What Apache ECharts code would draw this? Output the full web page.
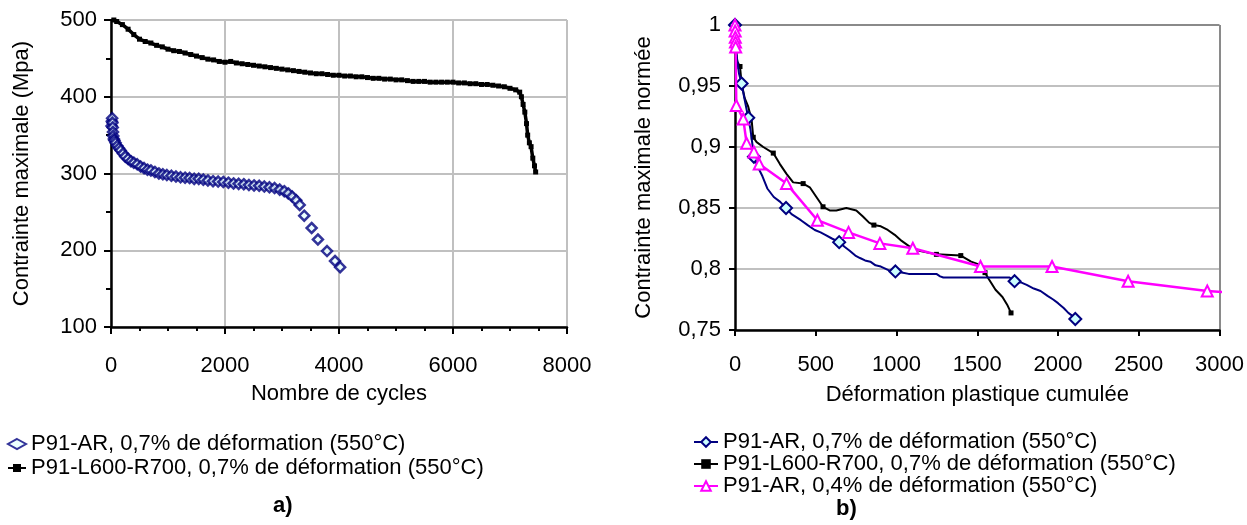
<!DOCTYPE html>
<html>
<head>
<meta charset="utf-8">
<script src="https://cdn.jsdelivr.net/npm/echarts@6/dist/echarts.min.js"></script>
<style>
  html, body { margin: 0; padding: 0; background: #fff; }
  #fatigue_con { width: 1247px; height: 525px; }
</style>
</head>
<body>
<div id="fatigue_con"></div>
<script>
// a) contrainte maximale (MPa) en fonction du nombre de cycles
const cyclesAR = [10, 15, 20, 25, 30, 35, 40, 50, 60, 80, 110, 140, 170, 210, 250, 300, 350, 400, 460, 520,
  580, 640, 700, 770, 840, 910, 980, 1060, 1140, 1220, 1300, 1380, 1460, 1540, 1620, 1700, 1790, 1880, 1970, 2060,
  2150, 2240, 2330, 2420, 2510, 2600, 2690, 2780, 2870, 2960, 3040, 3110, 3180, 3250, 3310, 3390, 3520, 3630, 3790, 3930, 4020];
const stressAR = [362, 368, 372, 366, 360, 354, 349, 345, 343, 340, 336, 333, 330, 326, 322, 319, 316, 314, 312, 309,
  307, 305, 304, 302, 300, 299, 298, 297, 296, 295, 294.5, 294, 293, 293, 292, 291, 290, 289.5, 289, 288,
  287, 286.5, 286, 285, 284.5, 284, 283, 282, 281, 279, 277, 274, 270, 265, 259, 245, 229, 214, 199, 186, 178];

const cyclesL600 = [50, 100, 200, 300, 400, 500, 600, 700, 800, 900, 1000, 1100, 1200, 1300, 1400, 1500, 1600, 1700, 1800, 1900,
  2000, 2100, 2200, 2300, 2400, 2500, 2600, 2700, 2800, 2900, 3000, 3100, 3200, 3300, 3400, 3500, 3600, 3700, 3800, 3900,
  4000, 4100, 4200, 4300, 4400, 4500, 4600, 4700, 4800, 4900, 5000, 5100, 5200, 5300, 5400, 5500, 5600, 5700, 5800, 5900,
  6000, 6100, 6200, 6300, 6400, 6500, 6600, 6700, 6800, 6900, 7000, 7100, 7170, 7200, 7230, 7260, 7290, 7310, 7340, 7370,
  7400, 7430, 7450];
const stressL600 = [500, 498, 494, 488, 481, 475, 472, 470, 467, 465, 462, 460, 459, 457, 455, 453, 451, 449, 448, 446,
  445, 446, 444, 443, 442, 441, 440, 439, 438, 437, 436, 435, 434, 433, 432, 431, 430, 430, 429, 428,
  428, 427, 427, 426, 426, 425, 424, 424, 423, 423, 422, 422, 421, 420, 420, 420, 419, 419, 419, 419,
  419, 418, 418, 417, 417, 416, 416, 415, 414, 413, 411, 409, 406, 400, 390, 380, 365, 350, 340, 335,
  320, 310, 302];

// b) contrainte maximale normée en fonction de la déformation plastique cumulée
const ar07 = [[0, 1.0], [2, 0.99], [10, 0.975], [25, 0.96], [41, 0.952], [55, 0.942], [70, 0.932], [82, 0.924],
  [95, 0.915], [110, 0.9], [117, 0.892], [140, 0.884], [170, 0.876], [200, 0.866], [240, 0.859], [280, 0.855],
  [316, 0.85], [350, 0.845], [408, 0.84], [450, 0.836], [494, 0.832], [530, 0.83], [559, 0.828], [600, 0.825],
  [645, 0.822], [680, 0.818], [710, 0.815], [745, 0.811], [774, 0.809], [805, 0.807], [838, 0.806], [870, 0.803],
  [903, 0.802], [950, 0.799], [993, 0.798], [1040, 0.797], [1075, 0.796], [1150, 0.796], [1247, 0.796], [1270, 0.794],
  [1290, 0.793], [1450, 0.793], [1600, 0.793], [1700, 0.793], [1731, 0.79], [1770, 0.789], [1806, 0.787], [1850, 0.784],
  [1892, 0.782], [1935, 0.778], [1970, 0.775], [2000, 0.772], [2035, 0.768], [2064, 0.764], [2085, 0.762], [2107, 0.759]];
const ar07Marked = [0, 41, 82, 117, 316, 645, 993, 1731, 2107];

const l600 = [[0, 1.0], [2, 0.99], [6, 0.979], [14, 0.97], [31, 0.966], [41, 0.952], [60, 0.94], [82, 0.933],
  [103, 0.922], [113, 0.908], [134, 0.904], [175, 0.9], [237, 0.895], [278, 0.886], [319, 0.878], [360, 0.871],
  [422, 0.87], [463, 0.867], [504, 0.859], [545, 0.851], [586, 0.848], [627, 0.848], [689, 0.85], [751, 0.848],
  [792, 0.843], [830, 0.838], [860, 0.836], [903, 0.835], [946, 0.832], [989, 0.828], [1032, 0.823], [1075, 0.819],
  [1140, 0.815], [1247, 0.812], [1398, 0.811], [1462, 0.806], [1505, 0.804], [1548, 0.797], [1570, 0.792], [1613, 0.783],
  [1656, 0.777], [1688, 0.77], [1709, 0.764]];
const l600Marked = [6, 31, 41, 113, 237, 422, 545, 860, 1247, 1398, 1548, 1709];

const ar04 = [[0, 1.0], [1, 0.995], [2, 0.99], [3, 0.986], [4, 0.982], [8, 0.934], [51, 0.923], [72, 0.903],
  [117, 0.896], [150, 0.886], [319, 0.87], [510, 0.84], [703, 0.83], [897, 0.821], [1101, 0.817], [1520, 0.802],
  [1963, 0.802], [2434, 0.79], [2924, 0.782], [3030, 0.781]];

const cycleTicks = [0, 8000, 2000];
const stressTicks = [100, 500, 100];
const strainTicks = [0, 3000, 500];
const normTicks = [0.75, 1, 0.05];

const legendNames = {
  a1: 'P91-AR, 0,7% de déformation (550°C)',
  a2: 'P91-L600-R700, 0,7% de déformation (550°C)',
  b1: 'P91-AR, 0,7% de déformation (550°C)',
  b2: 'P91-L600-R700, 0,7% de déformation (550°C)',
  b3: 'P91-AR, 0,4% de déformation (550°C)'
};

const font = 'Liberation Sans';
const navy = '#000080';
const pink = '#ff00ff';

function withMarks(points, marked) {
  return points.map(p => marked.indexOf(p[0]) >= 0 ? p : { value: p, symbol: 'none' });
}

const plain = v => String(v);
const comma = v => String(Math.round(v * 100) / 100).replace('.', ',');

const chart = echarts.init(document.getElementById('fatigue_con'));

const option = {
  animation: false,
  backgroundColor: '#fff',
  textStyle: { fontFamily: font, color: '#000' },
  title: [
    { text: 'a)', left: 268, top: 490, textStyle: { fontFamily: font, fontSize: 22, fontWeight: 'bold', color: '#000' } },
    { text: 'b)', left: 831, top: 493, textStyle: { fontFamily: font, fontSize: 22, fontWeight: 'bold', color: '#000' } }
  ],
  legend: [
    {
      orient: 'vertical', left: 2, top: 428, itemWidth: 18, itemHeight: 10, itemGap: 2,
      data: ['a1', 'a2'],
      formatter: n => legendNames[n],
      textStyle: { fontFamily: font, fontSize: 22, lineHeight: 22, color: '#000' }
    },
    {
      orient: 'vertical', left: 688, top: 426, itemWidth: 24, itemHeight: 12, itemGap: 0,
      data: ['b1', 'b2', 'b3'],
      formatter: n => legendNames[n],
      textStyle: { fontFamily: font, fontSize: 22, lineHeight: 22, color: '#000' }
    }
  ],
  grid: [
    { left: 111, top: 20, width: 456, height: 307 },
    { left: 735, top: 25, width: 486, height: 305 }
  ],
  xAxis: [
    {
      gridIndex: 0, type: 'value', min: cycleTicks[0], max: cycleTicks[1], interval: cycleTicks[2],
      name: 'Nombre de cycles', nameLocation: 'middle', nameGap: 56,
      nameTextStyle: { fontFamily: font, fontSize: 22, color: '#000' },
      axisLine: { lineStyle: { color: '#000', width: 2.5 } },
      axisTick: { length: 7, lineStyle: { color: '#000', width: 2 } },
      minorTick: { show: true, splitNumber: 4, length: 4, lineStyle: { color: '#000', width: 2 } },
      axisLabel: { margin: 28, fontFamily: font, fontSize: 22, color: '#000', formatter: plain },
      splitLine: { show: true, lineStyle: { color: '#c0c0c0', width: 2 } }
    },
    {
      gridIndex: 1, type: 'value', min: strainTicks[0], max: strainTicks[1], interval: strainTicks[2],
      name: 'Déformation plastique cumulée', nameLocation: 'middle', nameGap: 54,
      nameTextStyle: { fontFamily: font, fontSize: 22, color: '#000' },
      axisLine: { lineStyle: { color: '#000', width: 2.5 } },
      axisTick: { length: 6, lineStyle: { color: '#000', width: 2 } },
      axisLabel: { margin: 24, fontFamily: font, fontSize: 22, color: '#000', formatter: plain },
      splitLine: {
        show: true,
        lineStyle: { color: ['rgba(0,0,0,0)', 'rgba(0,0,0,0)', 'rgba(0,0,0,0)', 'rgba(0,0,0,0)', 'rgba(0,0,0,0)', 'rgba(0,0,0,0)', '#8a8a8a'], width: 2 }
      }
    }
  ],
  yAxis: [
    {
      gridIndex: 0, type: 'value', min: stressTicks[0], max: stressTicks[1], interval: stressTicks[2],
      name: 'Contrainte maximale (Mpa)', nameLocation: 'middle', nameGap: 78,
      nameTextStyle: { fontFamily: font, fontSize: 22, color: '#000' },
      axisLine: { show: true, lineStyle: { color: '#000', width: 2.5 } },
      axisTick: { show: true, length: 7, lineStyle: { color: '#000', width: 2 } },
      minorTick: { show: true, splitNumber: 2, length: 5, lineStyle: { color: '#000', width: 2 } },
      axisLabel: { margin: 14, fontFamily: font, fontSize: 22, color: '#000', formatter: plain },
      splitLine: { show: true, lineStyle: { color: '#c0c0c0', width: 2 } }
    },
    {
      gridIndex: 1, type: 'value', min: normTicks[0], max: normTicks[1], interval: normTicks[2],
      name: 'Contrainte maximale normée', nameLocation: 'middle', nameGap: 80,
      nameTextStyle: { fontFamily: font, fontSize: 22, color: '#000' },
      axisLine: { show: true, lineStyle: { color: '#000', width: 2.5 } },
      axisTick: { show: true, length: 6, lineStyle: { color: '#000', width: 2 } },
      axisLabel: { margin: 14, fontFamily: font, fontSize: 22, color: '#000', formatter: comma },
      splitLine: {
        show: true,
        lineStyle: { color: ['#c0c0c0', '#c0c0c0', '#c0c0c0', '#c0c0c0', '#c0c0c0', '#8a8a8a'], width: 2 }
      }
    }
  ],
  series: [
    {
      name: 'a1', type: 'scatter', xAxisIndex: 0, yAxisIndex: 0,
      symbol: 'diamond', symbolSize: 10,
      itemStyle: { color: '#e8ffff', borderColor: navy, borderWidth: 2.5 },
      data: cyclesAR.map((c, i) => [c, stressAR[i]])
    },
    {
      name: 'a2', type: 'line', xAxisIndex: 0, yAxisIndex: 0,
      symbol: 'rect', symbolSize: 5, showSymbol: true,
      lineStyle: { color: '#000', width: 3.5 },
      itemStyle: { color: '#000' },
      data: cyclesL600.map((c, i) => [c, stressL600[i]])
    },
    {
      name: 'b1', type: 'line', xAxisIndex: 1, yAxisIndex: 1, z: 3,
      symbol: 'diamond', symbolSize: 12,
      lineStyle: { color: navy, width: 2 },
      itemStyle: { color: '#ccffff', borderColor: navy, borderWidth: 2 },
      data: withMarks(ar07, ar07Marked)
    },
    {
      name: 'b2', type: 'line', xAxisIndex: 1, yAxisIndex: 1, z: 2,
      symbol: 'rect', symbolSize: 5,
      lineStyle: { color: '#000', width: 2 },
      itemStyle: { color: '#000' },
      data: withMarks(l600, l600Marked)
    },
    {
      name: 'b3', type: 'line', xAxisIndex: 1, yAxisIndex: 1, z: 4, clip: false,
      symbol: 'triangle', symbolSize: 11,
      lineStyle: { color: pink, width: 2.5 },
      itemStyle: { color: '#fff', borderColor: pink, borderWidth: 2 },
      data: ar04.map(p => p[0] > strainTicks[1] ? { value: p, symbol: 'none' } : p)
    }
  ]
};

chart.setOption(option);
</script>
</body>
</html>
